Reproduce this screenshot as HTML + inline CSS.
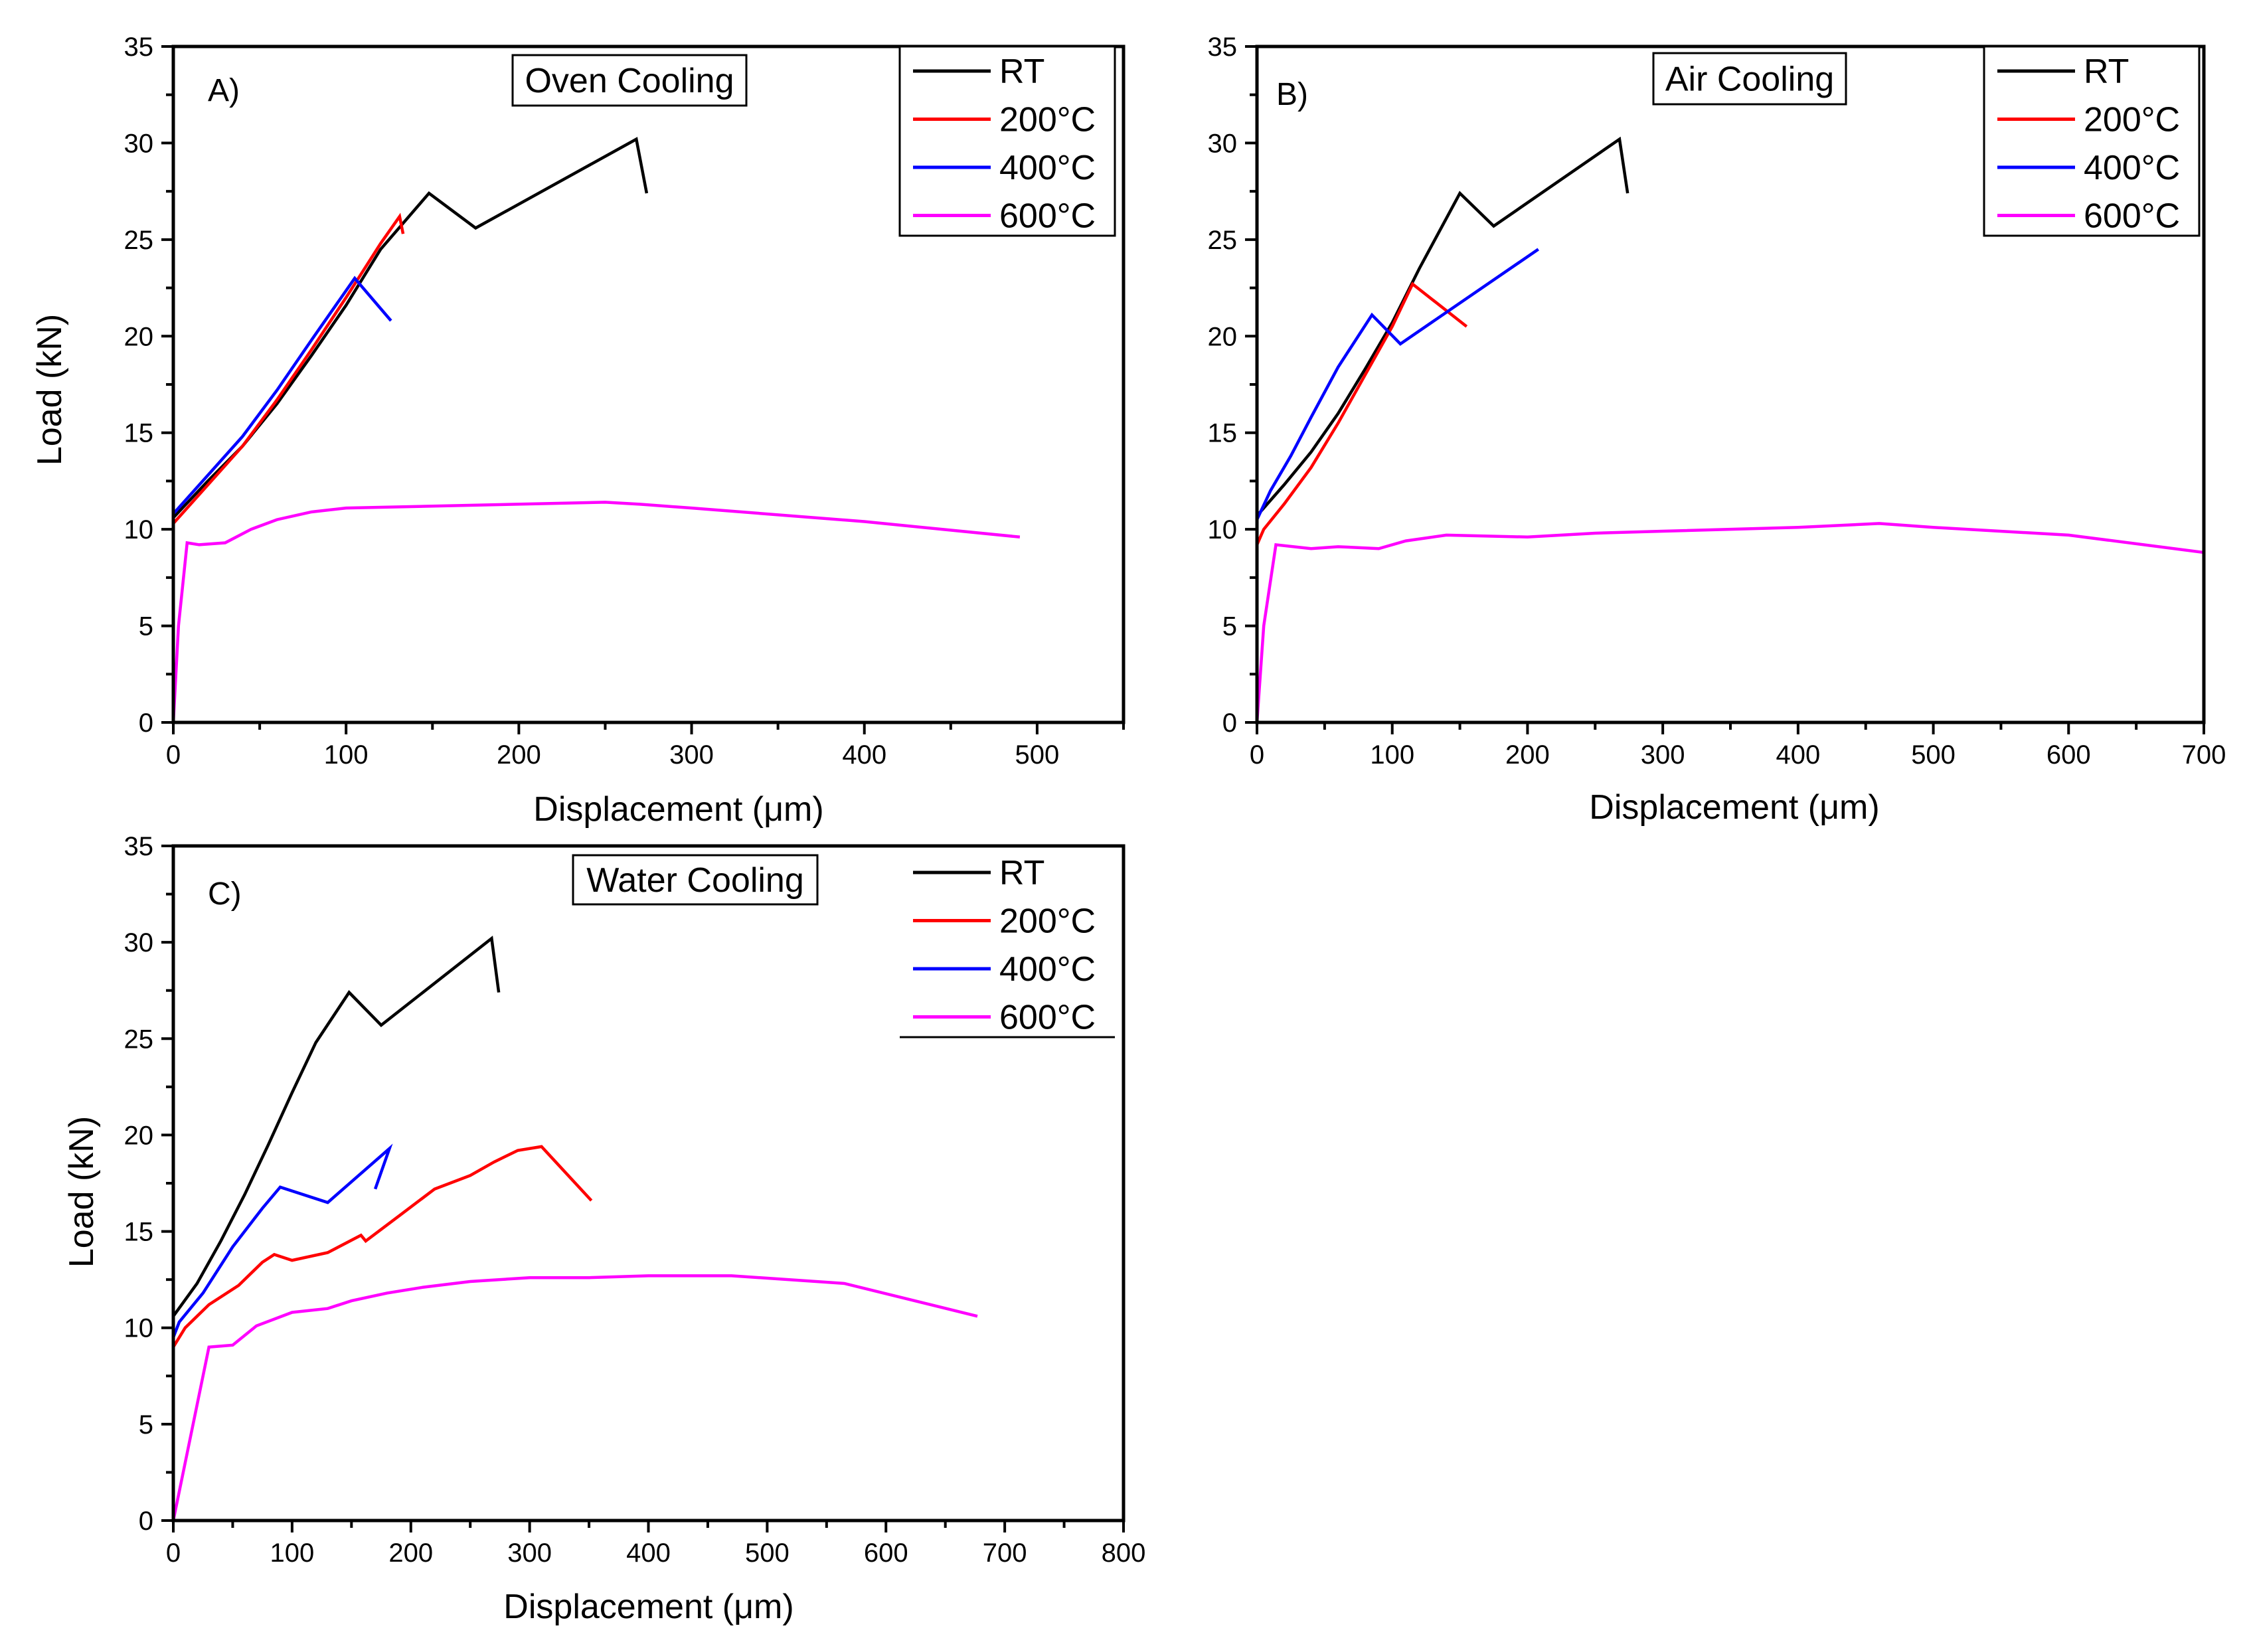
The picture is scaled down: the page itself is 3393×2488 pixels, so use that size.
<!DOCTYPE html>
<html><head><meta charset="utf-8"><style>
html,body{margin:0;padding:0;background:#fff;}
svg{display:block;}
text{font-family:"Liberation Sans",sans-serif;fill:#000;}
</style></head><body>
<svg id="fig" width="3393" height="2488" viewBox="0 0 3393 2488" xmlns="http://www.w3.org/2000/svg"></svg>
<script>
const seriesNames = ["RT","200°C","400°C","600°C"];
const seriesColors = ["#000000","#ff0000","#0000ff","#ff00ff"];
// Panel A - Oven cooling
const aRT = [[0,10.6],[20,12.5],[40,14.3],[60,16.5],[80,19],[100,21.6],[120,24.5],[148,27.4],[175,25.6],[268,30.2],[274,27.4]];
const a200 = [[0,10.3],[20,12.3],[40,14.3],[60,16.7],[80,19.3],[100,22],[120,24.8],[131,26.2],[133,25.3]];
const a400 = [[0,10.8],[20,12.8],[40,14.8],[60,17.2],[80,19.8],[105,23],[126,20.8]];
const a600 = [[0,0],[3,5],[8,9.3],[15,9.2],[30,9.3],[45,10],[60,10.5],[80,10.9],[100,11.1],[150,11.2],[250,11.4],[270,11.3],[300,11.1],[400,10.4],[490,9.6]];
// Panel B - Air cooling
const bRT = [[0,10.7],[20,12.3],[40,14],[60,16],[80,18.3],[100,20.7],[120,23.5],[150,27.4],[175,25.7],[268,30.2],[274,27.4]];
const b200 = [[0,9.2],[5,10],[20,11.3],[40,13.2],[60,15.5],[80,18],[100,20.5],[115,22.7],[155,20.5]];
const b400 = [[0,10.5],[10,12],[25,13.8],[40,15.8],[60,18.4],[85,21.1],[106,19.6],[208,24.5]];
const b600 = [[0,0],[5,5],[14,9.2],[40,9],[60,9.1],[90,9],[110,9.4],[140,9.7],[200,9.6],[250,9.8],[300,9.9],[400,10.1],[460,10.3],[500,10.1],[600,9.7],[700,8.8]];
// Panel C - Water cooling
const cRT = [[0,10.6],[20,12.3],[40,14.5],[60,16.9],[80,19.5],[100,22.2],[120,24.8],[148,27.4],[175,25.7],[268,30.2],[274,27.4]];
const c200 = [[0,9],[10,10],[30,11.2],[55,12.2],[75,13.4],[85,13.8],[100,13.5],[130,13.9],[158,14.8],[162,14.5],[190,15.8],[220,17.2],[250,17.9],[270,18.6],[290,19.2],[310,19.4],[352,16.6]];
const c400 = [[0,9.5],[5,10.3],[25,11.8],[50,14.2],[75,16.2],[90,17.3],[130,16.5],[182,19.3],[170,17.2]];
const c600 = [[0,0],[30,9],[50,9.1],[70,10.1],[100,10.8],[130,11],[150,11.4],[180,11.8],[210,12.1],[250,12.4],[300,12.6],[350,12.6],[400,12.7],[470,12.7],[565,12.3],[677,10.6]];
const yTicks = [0,5,10,15,20,25,30,35];
const xTicksA = [0,100,200,300,400,500];
const xTicksB = [0,100,200,300,400,500,600,700];
const xTicksC = [0,100,200,300,400,500,600,700,800];

const NS="http://www.w3.org/2000/svg";
const svg=document.getElementById('fig');
function mk(tag,attrs,parent){const e=document.createElementNS(NS,tag);for(const k in attrs)e.setAttribute(k,attrs[k]);(parent||svg).appendChild(e);return e;}

function panel(cfg){
  const g=mk('g',{});
  
  
  const X=v=>cfg.x0+(v/cfg.xmax)*(cfg.x1-cfg.x0);
  const Y=v=>cfg.y0-(v/35)*(cfg.y0-cfg.y1);
  cfg.series.forEach((s,i)=>{
    const p=mk('polyline',{points:s.map(d=>X(d[0])+','+Y(d[1])).join(' '),fill:'none',stroke:seriesColors[i],'stroke-width':4.5,'stroke-linejoin':'miter'},g);
    
    
  });
  const fr=mk('rect',{x:cfg.x0,y:cfg.y1,width:cfg.x1-cfg.x0,height:cfg.y0-cfg.y1,fill:'none',stroke:'#000','stroke-width':5},g);
  
  
  for(let v=0;v<=35;v+=2.5){
    const maj=v%5===0;
    mk('line',{x1:cfg.x0-(maj?18:11),x2:cfg.x0,y1:Y(v),y2:Y(v),stroke:'#000','stroke-width':4},g);
  }
  yTicks.forEach(v=>{
    const t=mk('text',{x:cfg.x0-30,y:Y(v)+14,'text-anchor':'end','font-size':40},g);
    t.textContent=v;
    
    
  });
  for(let v=0;v<=cfg.xmax;v+=50){
    const maj=v%100===0;
    mk('line',{x1:X(v),x2:X(v),y1:cfg.y0,y2:cfg.y0+(maj?18:11),stroke:'#000','stroke-width':4},g);
  }
  cfg.xTicks.forEach(v=>{
    const t=mk('text',{x:X(v),y:cfg.y0+62,'text-anchor':'middle','font-size':40},g);
    t.textContent=v;
    
    
  });
  const xt=mk('text',{x:cfg.xtx,y:cfg.xty,'text-anchor':'middle','font-size':52},g);
  xt.textContent='Displacement (μm)';
  
  
  if(cfg.ytx){
    const yt=mk('text',{x:cfg.ytx,y:cfg.yty,'text-anchor':'middle','font-size':52,transform:`rotate(-90 ${cfg.ytx} ${cfg.yty})`},g);
    yt.textContent='Load (kN)';
    
    
  }
  const pl=mk('text',{x:cfg.plx,y:cfg.ply,'font-size':48},g);
  pl.textContent=cfg.label;
  
  
  const tb=mk('rect',{x:cfg.tb[0],y:cfg.tb[1],width:cfg.tb[2],height:cfg.tb[3],fill:'#fff',stroke:'#000','stroke-width':3},g);
  
  
  const tt=mk('text',{x:cfg.tb[0]+cfg.tb[2]/2,y:cfg.tb[1]+cfg.tb[3]/2+18,'text-anchor':'middle','font-size':52},g);
  tt.textContent=cfg.title;
  
  
  const lg=mk('g',{},g);
  
  
  const L=cfg.leg;
  if(L.box){
    mk('rect',{x:L.x,y:L.y,width:324,height:285,fill:'#fff',stroke:'#000','stroke-width':3},lg);
  } else {
    mk('line',{x1:L.x,x2:L.x+324,y1:L.bottom,y2:L.bottom,stroke:'#000','stroke-width':3},lg);
  }
  seriesNames.forEach((n,i)=>{
    const yy=L.rows[0]+i*72.5;
    const e=mk('g',{},lg);
    
    
    mk('line',{x1:L.x+20,x2:L.x+137,y1:yy,y2:yy,stroke:seriesColors[i],'stroke-width':5},e);
    const t=mk('text',{x:L.x+150,y:yy+18,'font-size':52},e);
    t.textContent=n;
  });
}

panel({name:'panel-a-oven-cooling',x0:261,x1:1692,y0:1088,y1:70,xmax:550,xTicks:xTicksA,series:[aRT,a200,a400,a600],
  xtx:1022,xty:1236,ytx:92,yty:587,plx:313,ply:152,label:'A)',title:'Oven Cooling',tb:[772,83,352,76],
  leg:{box:true,x:1355,y:70,rows:[107]}});
panel({name:'panel-b-air-cooling',x0:1893,x1:3319,y0:1088,y1:70,xmax:700,xTicks:xTicksB,series:[bRT,b200,b400,b600],
  xtx:2612,xty:1233,ytx:null,plx:1922,ply:158,label:'B)',title:'Air Cooling',tb:[2490,80,290,77],
  leg:{box:true,x:2988,y:70,rows:[107]}});
panel({name:'panel-c-water-cooling',x0:261,x1:1692,y0:2290,y1:1274,xmax:800,xTicks:xTicksC,series:[cRT,c200,c400,c600],
  xtx:977,xty:2437,ytx:140,yty:1795,plx:313,ply:1362,label:'C)',title:'Water Cooling',tb:[863,1288,368,74],
  leg:{box:false,x:1355,bottom:1562,rows:[1314]}});
</script>
</body></html>
